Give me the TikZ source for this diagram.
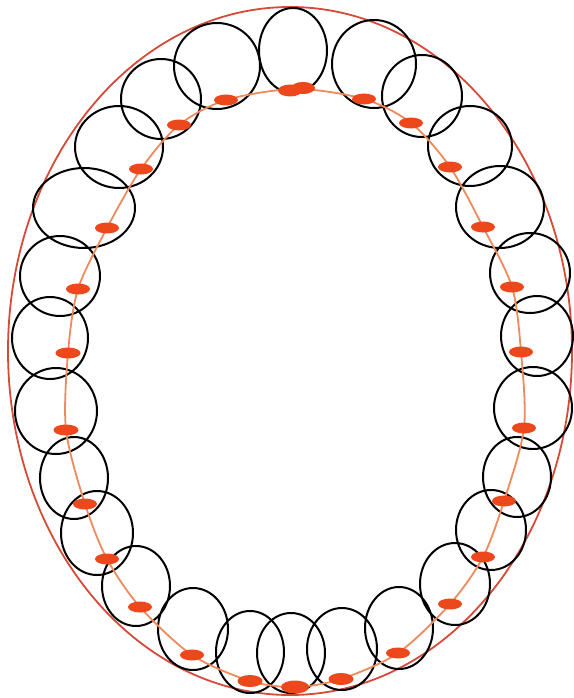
\documentclass[tikz,border=0pt]{standalone}
\usepackage{xcolor}
\usepackage{tikz}
\usetikzlibrary{calc}
\definecolor{archred}{RGB}{214, 74, 56}
\definecolor{archorange}{RGB}{238, 138, 92}
\definecolor{contactred}{RGB}{236, 72, 28}

\tikzset{
  tooth/.style={draw=black, line width=2pt},
  contact/.style={fill=contactred, draw=none}
}

\begin{document}
\begin{tikzpicture}[x=1pt, y=-1pt]
        \useasboundingbox (0,0) rectangle (573,698);
        % Outer arch
        \draw[draw=archred, line width=1.8pt] (290,351) ellipse (282 and 344);

        % Contact points along the inner arch
        \coordinate (d1) at (296,89);   \coordinate (d2) at (364,99);
        \coordinate (d3) at (411,123);  \coordinate (d4) at (450,167);
        \coordinate (d5) at (483,227);  \coordinate (d6) at (512,287);
        \coordinate (d7) at (521,352);  \coordinate (d8) at (524,428);
        \coordinate (d9) at (504,501);  \coordinate (d10) at (483,557);
        \coordinate (d11) at (450,604); \coordinate (d12) at (398,653);
        \coordinate (d13) at (341,679); \coordinate (d14) at (295,687);
        \coordinate (d15) at (250,681); \coordinate (d16) at (192,655);
        \coordinate (d17) at (140,607); \coordinate (d18) at (107,559);
        \coordinate (d19) at (85,504);  \coordinate (d20) at (66,430);
        \coordinate (d21) at (68,353);  \coordinate (d22) at (78,289);
        \coordinate (d23) at (107,228); \coordinate (d24) at (141,169);
        \coordinate (d25) at (179,125); \coordinate (d26) at (226,100);

        % Teeth: upper half
        \draw[tooth] (293,50.5) ellipse (34 and 42.5) (374,64) ellipse (42 and 44)
              (422,96) ellipse (40 and 41) (470,146) ellipse (42 and 40)
              (500,207) ellipse (44 and 41) (530,273) ellipse (40 and 40)
              (537,336) ellipse (36 and 40);
        \draw[tooth] (217,66) ellipse (43 and 43) (161,99) ellipse (40 and 40)
              (119,147) ellipse (44 and 41) (84,208) ellipse (51 and 40)
              (60,276) ellipse (40 and 40) (50,338) ellipse (38 and 41);
        % Teeth: lower half
        \draw[tooth] (533,408) ellipse (39 and 41) (517,477) ellipse (34 and 40)
              (491,530) ellipse (35 and 40) (455,584) ellipse (35 and 41)
              (399,628) ellipse (34 and 41) (342,649) ellipse (35 and 41)
              (291,653) ellipse (34 and 40);
        \draw[tooth] (56,411) ellipse (41 and 43) (74,478) ellipse (34 and 41)
              (97,533) ellipse (36 and 42) (136,586) ellipse (34 and 40)
              (193,629) ellipse (35 and 41) (250,652) ellipse (34 and 41);

        % Inner arch through the contact points
        \draw[draw=archorange, line width=1.8pt] plot[smooth cycle] coordinates {(d1) (d2) (d3) (d4) (d5) (d6) (d7) (d8) (d9) (d10) (d11) (d12) (d13) (d14) (d15) (d16) (d17) (d18) (d19) (d20) (d21) (d22) (d23) (d24) (d25) (d26)};

        % Contact marks
        \fill[contact] (290,90.5) ellipse (12 and 6) (303,88) ellipse (12 and 6);
        \fill[contact] (d2) ellipse (12 and 5.5) (d3) ellipse (12 and 5.5)
              (d4) ellipse (12 and 5.5) (d5) ellipse (12 and 5.5)
              (d6) ellipse (12 and 5.5) (d7) ellipse (12 and 5.5)
              (d8) ellipse (12 and 5.5) (d9) ellipse (12 and 5.5)
              (d10) ellipse (12 and 5.5) (d11) ellipse (12 and 5.5)
              (d12) ellipse (12 and 5.5) (d13) ellipse (12.5 and 6);
        \fill[contact] (d14) ellipse (14 and 6.5);
        \fill[contact] (d15) ellipse (12.5 and 6) (d16) ellipse (12 and 5.5)
              (d17) ellipse (12 and 5.5) (d18) ellipse (12 and 5.5)
              (d19) ellipse (12 and 5.5) (d20) ellipse (12.5 and 5.5)
              (d21) ellipse (12.5 and 5.5) (d22) ellipse (12 and 5.5)
              (d23) ellipse (12 and 5.5) (d24) ellipse (12 and 5.5)
              (d25) ellipse (12 and 5.5) (d26) ellipse (12 and 5.5);
    \end{tikzpicture}
\end{document}
